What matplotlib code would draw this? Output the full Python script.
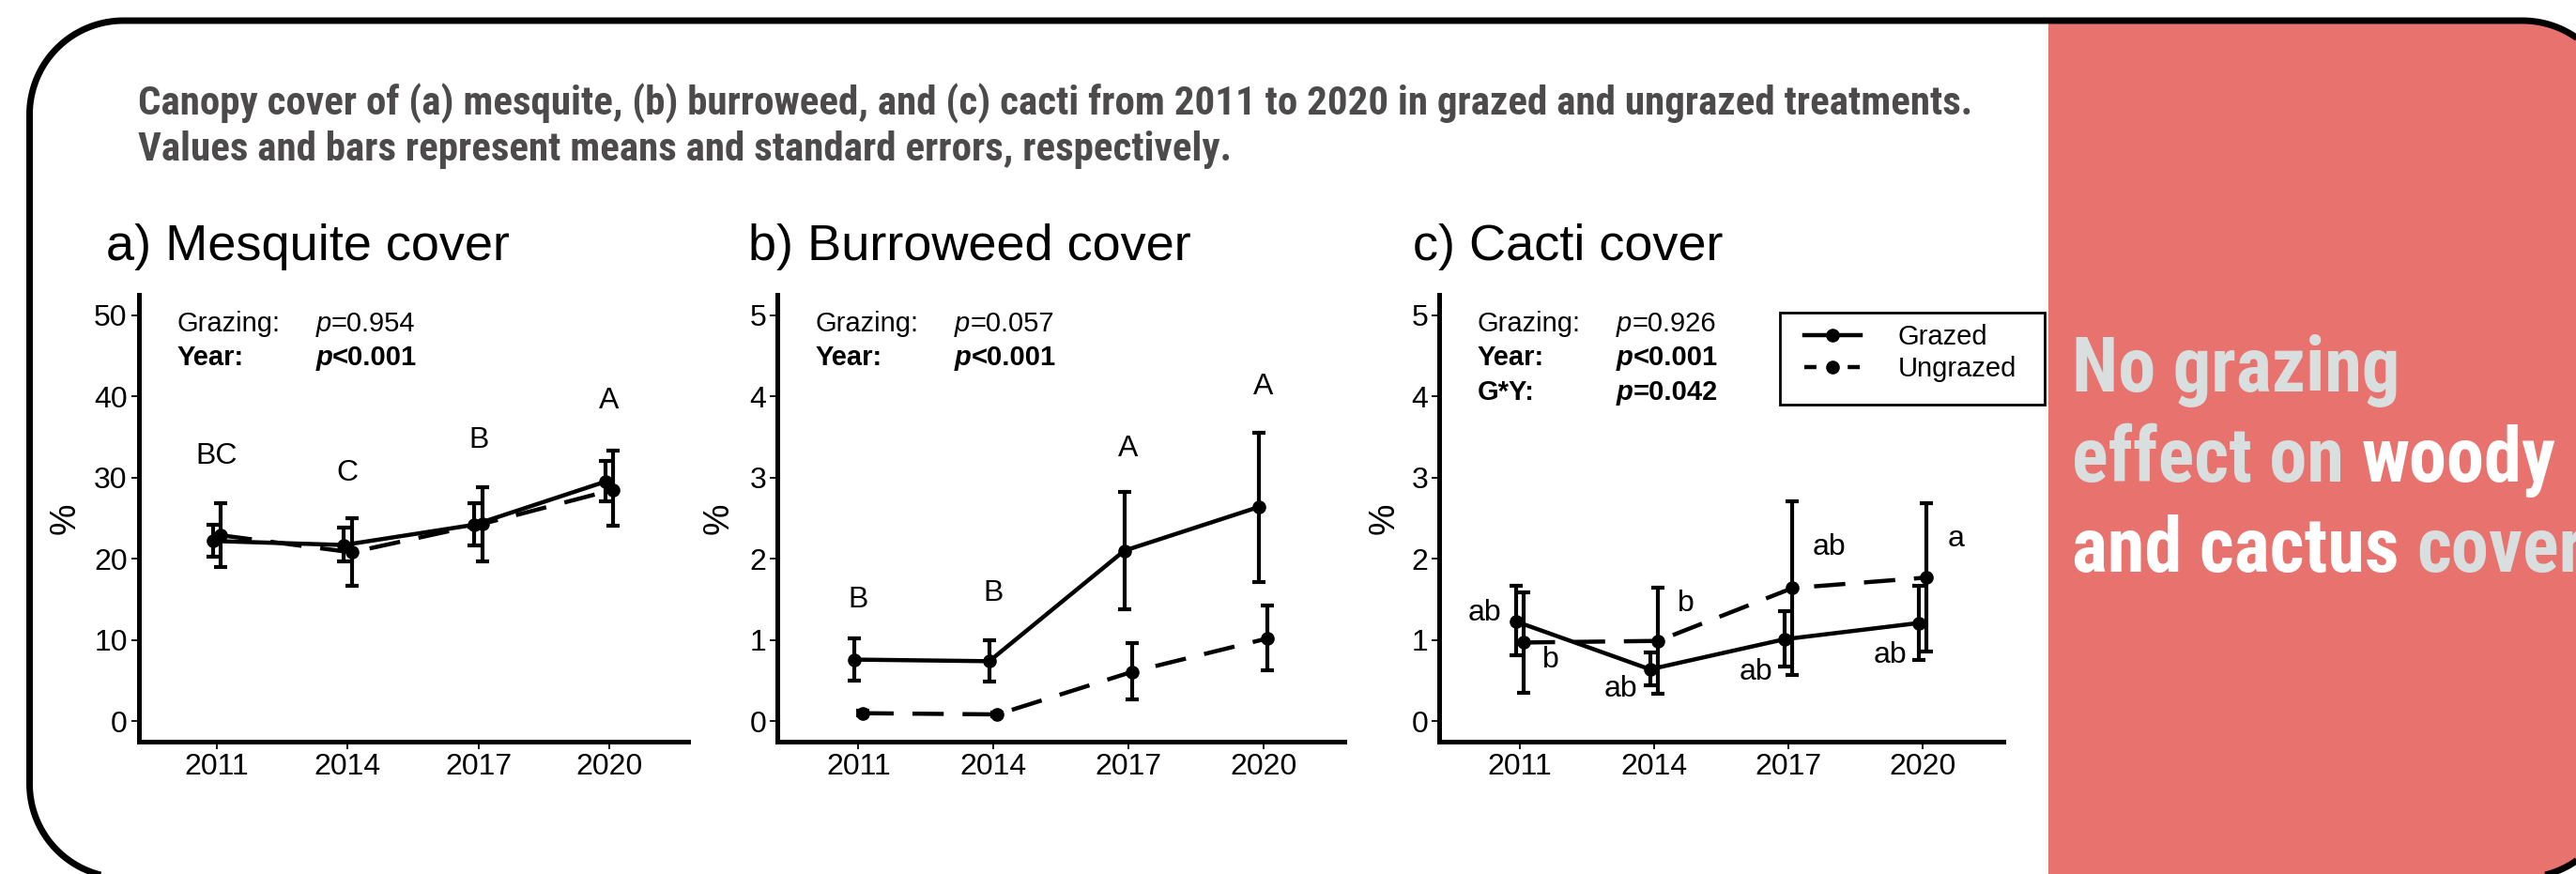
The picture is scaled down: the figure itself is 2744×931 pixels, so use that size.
import numpy as np
import matplotlib
matplotlib.use('Agg')
import matplotlib.pyplot as plt
from matplotlib import font_manager
from matplotlib.patches import Polygon, Rectangle
from matplotlib.lines import Line2D

# data
years = ['2011', '2014', '2017', '2020']

mes_g = [22.2, 21.7, 24.2, 29.5]
mes_g_lo = [20.3, 19.7, 21.7, 27.1]
mes_g_hi = [24.2, 23.8, 26.8, 32.1]
mes_u = [22.9, 20.8, 24.3, 28.5]
mes_u_lo = [19.0, 16.7, 19.7, 24.1]
mes_u_hi = [26.9, 25.0, 28.8, 33.3]
mes_letters = ['BC', 'C', 'B', 'A']
mes_letter_y = [32.6, 30.6, 34.6, 39.4]

bur_g = [0.76, 0.74, 2.10, 2.64]
bur_g_lo = [0.50, 0.49, 1.38, 1.72]
bur_g_hi = [1.02, 1.00, 2.82, 3.55]
bur_u = [0.10, 0.085, 0.61, 1.02]
bur_u_lo = [0.07, 0.06, 0.27, 0.63]
bur_u_hi = [0.13, 0.11, 0.96, 1.42]
bur_letters = ['B', 'B', 'A', 'A']
bur_letter_y = [1.50, 1.57, 3.35, 4.12]

cac_g = [1.23, 0.64, 1.01, 1.21]
cac_g_lo = [0.81, 0.44, 0.68, 0.76]
cac_g_hi = [1.67, 0.85, 1.36, 1.67]
cac_u = [0.97, 0.99, 1.64, 1.77]
cac_u_lo = [0.35, 0.34, 0.57, 0.86]
cac_u_hi = [1.59, 1.64, 2.71, 2.69]
cac_letters = ['ab', 'b', 'ab', 'b', 'ab', 'ab', 'ab', 'a']
cac_letter_x = [0.74, 1.23, 1.75, 2.24, 2.76, 3.30, 3.76, 4.25]
cac_letter_y = [1.33, 0.75, 0.40, 1.45, 0.60, 2.14, 0.81, 2.25]

stats_a = [('Grazing:', '=0.954', False), ('Year:', '<0.001', True)]
stats_b = [('Grazing:', '=0.057', False), ('Year:', '<0.001', True)]
stats_c = [('Grazing:', '=0.926', False), ('Year:', '<0.001', True), ('G*Y:', '=0.042', True)]

titles = ['a) Mesquite cover', 'b) Burroweed cover', 'c) Cacti cover']
caption = ['Canopy cover of (a) mesquite, (b) burroweed, and (c) cacti from 2011 to 2020 in grazed and ungrazed treatments.',
           'Values and bars represent means and standard errors, respectively.']
message = [[('No grazing', 'grey')],
           [('effect on ', 'grey'), ('woody', 'white')],
           [('and cactus ', 'white'), ('cover', 'grey')]]

W, H = 2744, 931
plt.rcParams['font.family'] = ['Liberation Sans', 'DejaVu Sans']

# look for a narrow/condensed face for the headline text
fonts = font_manager.fontManager.ttflist
narrow, stretch = None, 'normal'
for want in ['Liberation Sans Narrow', 'Roboto Condensed', 'Open Sans Condensed', 'Noto Sans Condensed']:
    if any(f.name == want for f in fonts):
        narrow = want
        break
if narrow is None:
    for f in fonts:
        if f.name in ('DejaVu Sans', 'Noto Sans', 'Open Sans') and str(f.stretch) in ('condensed', 'semi-condensed', '75', '87.5'):
            narrow, stretch = f.name, f.stretch
            break
if narrow is None:
    narrow = 'Liberation Sans'
    head_fs, cap_fs = 54, 26.7
else:
    head_fs, cap_fs = 58, 31

RED = '#E7726E'
PALE = '#D9DEDF'
CAPGREY = '#4D4A4B'

fig = plt.figure(figsize=(W / 100, H / 100), dpi=100)

# background layer in pixel units
bg = fig.add_axes([0, 0, 1, 1], zorder=0)
bg.set_xlim(0, W)
bg.set_ylim(H, 0)
bg.axis('off')


def rounded_box(x0, y0, x1, y1, r, n=40):
    # rounded rectangle as a plain polyline (y grows downwards)
    spec = [((x0 + r, y0 + r), 180, 270), ((x1 - r, y0 + r), 270, 360),
            ((x1 - r, y1 - r), 0, 90), ((x0 + r, y1 - r), 90, 180)]
    pts = []
    for (cx, cy), a0, a1 in spec:
        t = np.radians(np.linspace(a0, a1, n))
        pts.append(np.column_stack([cx + r * np.cos(t), cy + r * np.sin(t)]))
    return np.vstack(pts)


frame = Polygon(rounded_box(31.5, 22, 2787, 935, 100), closed=True,
                fc='none', ec='black', lw=5, zorder=3)
bg.add_patch(frame)
red = Rectangle((2182, 0), 700, 1000, fc=RED, ec='none', zorder=2)
bg.add_patch(red)
red.set_clip_path(frame)

# caption
for i, line in enumerate(caption):
    bg.text(147, 122 + 49 * i, line, fontsize=cap_fs, weight='bold', color=CAPGREY,
            family=narrow, fontstretch=stretch, va='baseline', ha='left')

# message in the red panel
cols = {'grey': PALE, 'white': 'white'}
for i, parts in enumerate(message):
    t = bg.text(2207, 417 + 96 * i, parts[0][0], color=cols[parts[0][1]], fontsize=head_fs,
                weight='bold', family=narrow, fontstretch=stretch, va='baseline', ha='left')
    for s, c in parts[1:]:
        t = bg.annotate(s, xy=(1, 0), xycoords=t, va='bottom', ha='left', color=cols[c],
                        fontsize=head_fs, weight='bold', family=narrow, fontstretch=stretch)

# legend frame
bg.add_patch(Rectangle((1896, 333), 2178 - 1896, 431 - 333, fc='none', ec='black', lw=2, zorder=3))

# panels
boxes = [(147.5, 585), (828, 604), (1533, 601)]
bottom, top = 790, 314
title_x = [113, 797, 1505]
ylab_x = [70, 766, 1475]

x = np.arange(1, 5)
dodge = 0.03
LW = 3.2
DASH = (7.5, 4.5)

panels = [
    (mes_g, mes_g_lo, mes_g_hi, mes_u, mes_u_lo, mes_u_hi, (-2.5, 52.5), np.arange(0, 51, 10), stats_a),
    (bur_g, bur_g_lo, bur_g_hi, bur_u, bur_u_lo, bur_u_hi, (-0.25, 5.25), np.arange(0, 6), stats_b),
    (cac_g, cac_g_lo, cac_g_hi, cac_u, cac_u_lo, cac_u_hi, (-0.25, 5.25), np.arange(0, 6), stats_c),
]

axes = []
for k, (g, glo, ghi, u, ulo, uhi, ylim, yt, stats) in enumerate(panels):
    left, width = boxes[k]
    ax = fig.add_axes([left / W, 1 - bottom / H, width / W, (bottom - top) / H], zorder=2)
    ax.set_facecolor('none')
    g, glo, ghi = np.array(g), np.array(glo), np.array(ghi)
    u, ulo, uhi = np.array(u), np.array(ulo), np.array(uhi)
    xg = x - dodge
    xu = x + dodge
    ax.errorbar(xg, g, yerr=[g - glo, ghi - g], fmt='none', ecolor='black',
                elinewidth=3.0, capsize=5, capthick=3.0)
    ax.errorbar(xu, u, yerr=[u - ulo, uhi - u], fmt='none', ecolor='black',
                elinewidth=3.0, capsize=5, capthick=3.0)
    ax.plot(xg, g, color='black', lw=LW, marker='o', ms=9.5)
    ax.plot(xu, u, color='black', lw=LW, marker='o', ms=9.5, dashes=DASH)

    ax.set_xlim(0.4, 4.6)
    ax.set_ylim(*ylim)
    ax.set_xticks(x)
    ax.set_xticklabels(years)
    ax.set_yticks(yt)
    ax.tick_params(length=5.5, width=1.3, labelsize=23, pad=3, colors='black')
    for s in ['top', 'right']:
        ax.spines[s].set_visible(False)
    for s in ['left', 'bottom']:
        ax.spines[s].set_linewidth(3.6)

    offs = [-22.3, -48.2, -74.9]
    for r, (lab, pv, bold) in enumerate(stats):
        wt = 'bold' if bold else 'normal'
        ax.annotate(lab, xy=(0, 1), xycoords='axes fraction', xytext=(29.5, offs[r]),
                    textcoords='offset points', fontsize=21, weight=wt, va='center', ha='left')
        pt = ax.annotate('p', xy=(0, 1), xycoords='axes fraction', xytext=(136, offs[r]),
                         textcoords='offset points', fontsize=21, weight=wt, style='italic',
                         va='center', ha='left')
        ax.annotate(pv, xy=(1, 0), xycoords=pt, va='bottom', ha='left', fontsize=21, weight=wt)

    fig.text(title_x[k] / W, 1 - 277 / H, titles[k], fontsize=39, va='baseline', ha='left')
    fig.text(ylab_x[k] / W, 1 - 552 / H, '%', fontsize=27, rotation=90, va='center', ha='center')
    axes.append(ax)

for xi, s, yv in zip(x, mes_letters, mes_letter_y):
    axes[0].text(xi, yv, s, fontsize=23, ha='center', va='center')
for xi, s, yv in zip(x, bur_letters, bur_letter_y):
    axes[1].text(xi, yv, s, fontsize=23, ha='center', va='center')
for xi, s, yv in zip(cac_letter_x, cac_letters, cac_letter_y):
    axes[2].text(xi, yv, s, fontsize=23, ha='center', va='center')

handles = [Line2D([], [], color='black', lw=LW, marker='o', ms=9.5),
           Line2D([], [], color='black', lw=LW, marker='o', ms=9.5, ls=(0, (2.9, 7.5)))]
fig.legend(handles, ['Grazed', 'Ungrazed'], loc='upper left',
           bbox_to_anchor=(1922 / W, 1 - 345 / H), bbox_transform=fig.transFigure,
           frameon=False, fontsize=21, handlelength=2.07, handletextpad=1.34,
           labelspacing=0.2, borderpad=0, borderaxespad=0)

fig.savefig('out.png', dpi=100)
